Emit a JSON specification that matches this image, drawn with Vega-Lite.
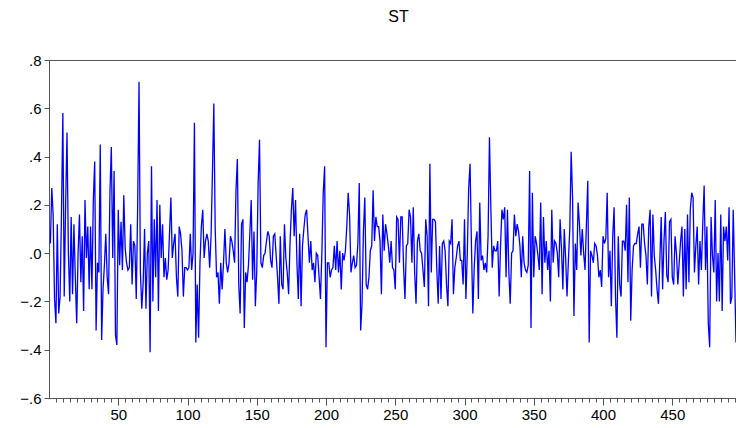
{
  "$schema": "https://vega.github.io/schema/vega-lite/v6.json",
  "autosize": "none",
  "width": 687,
  "height": 338,
  "padding": {"left": 49, "top": 60, "right": 0, "bottom": 30},
  "background": "white",
  "config": {"view": {"stroke": "#555555", "strokeWidth": 1}, "font": "Liberation Sans"},
  "title": {"text": "ST", "fontSize": 16, "fontWeight": "normal", "font": "Liberation Sans", "color": "#000000", "offset": 28, "anchor": "middle", "dx": 6},
  "data": {"values": [
{"t":1,"v":0.04},{"t":2,"v":0.27},{"t":3,"v":0.16},{"t":4,"v":-0.19},{"t":5,"v":-0.29},{"t":6,"v":0.12},{"t":7,"v":-0.25},{"t":8,"v":-0.18},{"t":9,"v":0.16},{"t":10,"v":0.58},
{"t":11,"v":-0.18},{"t":12,"v":0.2},{"t":13,"v":0.5},{"t":14,"v":0.0},{"t":15,"v":-0.2},{"t":16,"v":0.15},{"t":17,"v":-0.17},{"t":18,"v":0.12},{"t":19,"v":-0.1},{"t":20,"v":-0.29},
{"t":21,"v":0.0},{"t":22,"v":0.16},{"t":23,"v":-0.12},{"t":24,"v":0.07},{"t":25,"v":-0.24},{"t":26,"v":0.22},{"t":27,"v":-0.02},{"t":28,"v":0.11},{"t":29,"v":-0.15},{"t":30,"v":0.11},
{"t":31,"v":-0.15},{"t":32,"v":0.22},{"t":33,"v":0.38},{"t":34,"v":-0.32},{"t":35,"v":-0.04},{"t":36,"v":-0.08},{"t":37,"v":0.45},{"t":38,"v":-0.36},{"t":39,"v":-0.15},{"t":40,"v":-0.05},
{"t":41,"v":0.08},{"t":42,"v":-0.1},{"t":43,"v":-0.17},{"t":44,"v":0.25},{"t":45,"v":0.44},{"t":46,"v":-0.02},{"t":47,"v":0.34},{"t":48,"v":-0.34},{"t":49,"v":-0.38},{"t":50,"v":0.18},
{"t":51,"v":-0.05},{"t":52,"v":0.13},{"t":53,"v":-0.07},{"t":54,"v":0.24},{"t":55,"v":0.02},{"t":56,"v":-0.04},{"t":57,"v":-0.07},{"t":58,"v":-0.06},{"t":59,"v":0.12},{"t":60,"v":-0.13},
{"t":61,"v":0.05},{"t":62,"v":0.03},{"t":63,"v":-0.19},{"t":64,"v":0.19},{"t":65,"v":0.71},{"t":66,"v":-0.08},{"t":67,"v":-0.23},{"t":68,"v":-0.12},{"t":69,"v":0.1},{"t":70,"v":-0.23},
{"t":71,"v":0.0},{"t":72,"v":0.05},{"t":73,"v":-0.41},{"t":74,"v":0.36},{"t":75,"v":-0.2},{"t":76,"v":0.14},{"t":77,"v":-0.1},{"t":78,"v":0.22},{"t":79,"v":-0.24},{"t":80,"v":0.2},
{"t":81,"v":-0.02},{"t":82,"v":0.12},{"t":83,"v":-0.1},{"t":84,"v":-0.02},{"t":85,"v":-0.11},{"t":86,"v":-0.07},{"t":87,"v":0.08},{"t":88,"v":0.23},{"t":89,"v":-0.02},{"t":90,"v":0.04},
{"t":91,"v":0.08},{"t":92,"v":-0.1},{"t":93,"v":-0.18},{"t":94,"v":0.11},{"t":95,"v":0.08},{"t":96,"v":0.01},{"t":97,"v":-0.18},{"t":98,"v":-0.06},{"t":99,"v":-0.06},{"t":100,"v":-0.07},
{"t":101,"v":-0.06},{"t":102,"v":0.08},{"t":103,"v":-0.07},{"t":104,"v":0.0},{"t":105,"v":0.54},{"t":106,"v":-0.37},{"t":107,"v":-0.13},{"t":108,"v":-0.35},{"t":109,"v":-0.04},{"t":110,"v":0.11},
{"t":111,"v":0.18},{"t":112,"v":-0.02},{"t":113,"v":0.05},{"t":114,"v":0.08},{"t":115,"v":0.05},{"t":116,"v":-0.06},{"t":117,"v":0.07},{"t":118,"v":0.33},{"t":119,"v":0.62},{"t":120,"v":0.1},
{"t":121,"v":-0.1},{"t":122,"v":-0.08},{"t":123,"v":-0.21},{"t":124,"v":-0.04},{"t":125,"v":-0.15},{"t":126,"v":-0.04},{"t":127,"v":0.1},{"t":128,"v":-0.04},{"t":129,"v":-0.08},{"t":130,"v":-0.04},
{"t":131,"v":0.07},{"t":132,"v":0.05},{"t":133,"v":0.01},{"t":134,"v":-0.04},{"t":135,"v":0.26},{"t":136,"v":0.39},{"t":137,"v":-0.13},{"t":138,"v":-0.25},{"t":139,"v":0.12},{"t":140,"v":0.14},
{"t":141,"v":-0.31},{"t":142,"v":-0.08},{"t":143,"v":-0.12},{"t":144,"v":-0.05},{"t":145,"v":0.08},{"t":146,"v":0.22},{"t":147,"v":-0.11},{"t":148,"v":0.09},{"t":149,"v":-0.22},{"t":150,"v":-0.07},
{"t":151,"v":0.29},{"t":152,"v":0.47},{"t":153,"v":-0.04},{"t":154,"v":-0.06},{"t":155,"v":-0.01},{"t":156,"v":0.0},{"t":157,"v":0.05},{"t":158,"v":0.09},{"t":159,"v":0.07},{"t":160,"v":-0.03},
{"t":161,"v":-0.06},{"t":162,"v":0.07},{"t":163,"v":0.08},{"t":164,"v":-0.01},{"t":165,"v":-0.1},{"t":166,"v":-0.21},{"t":167,"v":0.07},{"t":168,"v":-0.13},{"t":169,"v":-0.15},{"t":170,"v":0.12},
{"t":171,"v":-0.02},{"t":172,"v":-0.08},{"t":173,"v":-0.17},{"t":174,"v":0.04},{"t":175,"v":0.18},{"t":176,"v":0.27},{"t":177,"v":0.07},{"t":178,"v":0.22},{"t":179,"v":-0.04},{"t":180,"v":-0.19},
{"t":181,"v":0.08},{"t":182,"v":-0.22},{"t":183,"v":0.03},{"t":184,"v":0.1},{"t":185,"v":0.16},{"t":186,"v":0.18},{"t":187,"v":0.07},{"t":188,"v":-0.04},{"t":189,"v":0.05},{"t":190,"v":-0.07},
{"t":191,"v":-0.04},{"t":192,"v":-0.12},{"t":193,"v":0.0},{"t":194,"v":-0.01},{"t":195,"v":-0.1},{"t":196,"v":-0.19},{"t":197,"v":0.0},{"t":198,"v":0.25},{"t":199,"v":0.36},{"t":200,"v":-0.39},
{"t":201,"v":-0.04},{"t":202,"v":-0.04},{"t":203,"v":-0.1},{"t":204,"v":-0.07},{"t":205,"v":-0.06},{"t":206,"v":0.03},{"t":207,"v":-0.07},{"t":208,"v":0.05},{"t":209,"v":-0.08},{"t":210,"v":0.01},
{"t":211,"v":-0.15},{"t":212,"v":0.0},{"t":213,"v":-0.03},{"t":214,"v":0.01},{"t":215,"v":0.11},{"t":216,"v":0.25},{"t":217,"v":0.16},{"t":218,"v":-0.08},{"t":219,"v":-0.04},{"t":220,"v":-0.01},
{"t":221,"v":-0.06},{"t":222,"v":-0.05},{"t":223,"v":0.04},{"t":224,"v":0.29},{"t":225,"v":-0.32},{"t":226,"v":-0.21},{"t":227,"v":0.09},{"t":228,"v":0.23},{"t":229,"v":-0.13},{"t":230,"v":-0.15},
{"t":231,"v":-0.1},{"t":232,"v":0.01},{"t":233,"v":0.03},{"t":234,"v":0.26},{"t":235,"v":0.05},{"t":236,"v":0.15},{"t":237,"v":0.11},{"t":238,"v":0.11},{"t":239,"v":0.05},{"t":240,"v":-0.17},
{"t":241,"v":0.16},{"t":242,"v":0.01},{"t":243,"v":0.12},{"t":244,"v":0.08},{"t":245,"v":0.03},{"t":246,"v":-0.04},{"t":247,"v":0.05},{"t":248,"v":-0.06},{"t":249,"v":-0.07},{"t":250,"v":-0.15},
{"t":251,"v":0.15},{"t":252,"v":0.14},{"t":253,"v":-0.04},{"t":254,"v":0.15},{"t":255,"v":0.15},{"t":256,"v":-0.06},{"t":257,"v":-0.19},{"t":258,"v":0.03},{"t":259,"v":0.04},{"t":260,"v":0.18},
{"t":261,"v":0.15},{"t":262,"v":-0.04},{"t":263,"v":0.19},{"t":264,"v":-0.08},{"t":265,"v":-0.21},{"t":266,"v":0.05},{"t":267,"v":0.08},{"t":268,"v":0.01},{"t":269,"v":0.0},{"t":270,"v":-0.07},
{"t":271,"v":-0.14},{"t":272,"v":0.14},{"t":273,"v":0.07},{"t":274,"v":-0.22},{"t":275,"v":0.37},{"t":276,"v":-0.08},{"t":277,"v":0.14},{"t":278,"v":0.14},{"t":279,"v":0.13},{"t":280,"v":-0.07},
{"t":281,"v":-0.21},{"t":282,"v":0.03},{"t":283,"v":-0.19},{"t":284,"v":0.04},{"t":285,"v":0.05},{"t":286,"v":0.01},{"t":287,"v":-0.13},{"t":288,"v":-0.22},{"t":289,"v":0.05},{"t":290,"v":0.04},
{"t":291,"v":0.14},{"t":292,"v":-0.17},{"t":293,"v":-0.06},{"t":294,"v":-0.02},{"t":295,"v":0.03},{"t":296,"v":0.05},{"t":297,"v":-0.03},{"t":298,"v":-0.03},{"t":299,"v":-0.13},{"t":300,"v":0.14},
{"t":301,"v":-0.19},{"t":302,"v":0.0},{"t":303,"v":0.27},{"t":304,"v":0.37},{"t":305,"v":0.03},{"t":306,"v":-0.25},{"t":307,"v":-0.06},{"t":308,"v":0.05},{"t":309,"v":0.09},{"t":310,"v":-0.19},
{"t":311,"v":0.21},{"t":312,"v":-0.03},{"t":313,"v":-0.01},{"t":314,"v":-0.07},{"t":315,"v":-0.04},{"t":316,"v":-0.08},{"t":317,"v":0.07},{"t":318,"v":0.48},{"t":319,"v":0.19},{"t":320,"v":-0.06},
{"t":321,"v":0.03},{"t":322,"v":0.01},{"t":323,"v":0.01},{"t":324,"v":0.05},{"t":325,"v":-0.18},{"t":326,"v":0.03},{"t":327,"v":0.18},{"t":328,"v":0.14},{"t":329,"v":0.19},{"t":330,"v":-0.1},
{"t":331,"v":0.18},{"t":332,"v":-0.08},{"t":333,"v":-0.21},{"t":334,"v":0.0},{"t":335,"v":0.01},{"t":336,"v":0.16},{"t":337,"v":0.07},{"t":338,"v":0.12},{"t":339,"v":0.09},{"t":340,"v":0.03},
{"t":341,"v":-0.1},{"t":342,"v":0.07},{"t":343,"v":-0.04},{"t":344,"v":-0.07},{"t":345,"v":-0.08},{"t":346,"v":-0.05},{"t":347,"v":0.34},{"t":348,"v":-0.31},{"t":349,"v":0.25},{"t":350,"v":-0.1},
{"t":351,"v":0.07},{"t":352,"v":0.04},{"t":353,"v":-0.01},{"t":354,"v":-0.07},{"t":355,"v":0.21},{"t":356,"v":-0.17},{"t":357,"v":0.15},{"t":358,"v":-0.04},{"t":359,"v":0.05},{"t":360,"v":-0.07},
{"t":361,"v":0.01},{"t":362,"v":-0.2},{"t":363,"v":0.18},{"t":364,"v":-0.04},{"t":365,"v":0.05},{"t":366,"v":0.04},{"t":367,"v":0.0},{"t":368,"v":-0.1},{"t":369,"v":0.14},{"t":370,"v":0.02},
{"t":371,"v":-0.15},{"t":372,"v":0.1},{"t":373,"v":-0.02},{"t":374,"v":-0.18},{"t":375,"v":-0.03},{"t":376,"v":0.1},{"t":377,"v":0.42},{"t":378,"v":0.23},{"t":379,"v":-0.26},{"t":380,"v":0.04},
{"t":381,"v":-0.07},{"t":382,"v":0.21},{"t":383,"v":0.12},{"t":384,"v":-0.01},{"t":385,"v":0.1},{"t":386,"v":0.0},{"t":387,"v":-0.07},{"t":388,"v":0.12},{"t":389,"v":0.3},{"t":390,"v":-0.37},
{"t":391,"v":0.01},{"t":392,"v":-0.01},{"t":393,"v":-0.04},{"t":394,"v":0.04},{"t":395,"v":0.03},{"t":396,"v":-0.01},{"t":397,"v":-0.1},{"t":398,"v":-0.07},{"t":399,"v":-0.14},{"t":400,"v":0.07},
{"t":401,"v":0.04},{"t":402,"v":0.06},{"t":403,"v":0.25},{"t":404,"v":-0.1},{"t":405,"v":0.01},{"t":406,"v":-0.22},{"t":407,"v":0.07},{"t":408,"v":0.19},{"t":409,"v":-0.18},{"t":410,"v":-0.35},
{"t":411,"v":0.07},{"t":412,"v":-0.13},{"t":413,"v":-0.18},{"t":414,"v":0.05},{"t":415,"v":0.05},{"t":416,"v":0.01},{"t":417,"v":0.2},{"t":418,"v":-0.12},{"t":419,"v":0.23},{"t":420,"v":-0.28},
{"t":421,"v":-0.07},{"t":422,"v":0.03},{"t":423,"v":0.04},{"t":424,"v":0.04},{"t":425,"v":0.08},{"t":426,"v":0.11},{"t":427,"v":-0.06},{"t":428,"v":0.12},{"t":429,"v":0.12},{"t":430,"v":0.04},
{"t":431,"v":-0.01},{"t":432,"v":-0.13},{"t":433,"v":0.11},{"t":434,"v":0.18},{"t":435,"v":-0.18},{"t":436,"v":0.16},{"t":437,"v":-0.01},{"t":438,"v":-0.07},{"t":439,"v":-0.15},{"t":440,"v":-0.21},
{"t":441,"v":-0.03},{"t":442,"v":0.15},{"t":443,"v":-0.15},{"t":444,"v":0.05},{"t":445,"v":0.17},{"t":446,"v":-0.09},{"t":447,"v":-0.12},{"t":448,"v":0.13},{"t":449,"v":0.14},{"t":450,"v":-0.1},
{"t":451,"v":-0.13},{"t":452,"v":0.07},{"t":453,"v":0.0},{"t":454,"v":-0.13},{"t":455,"v":-0.04},{"t":456,"v":0.05},{"t":457,"v":0.11},{"t":458,"v":-0.18},{"t":459,"v":0.1},{"t":460,"v":-0.15},
{"t":461,"v":0.16},{"t":462,"v":-0.12},{"t":463,"v":0.18},{"t":464,"v":0.25},{"t":465,"v":0.23},{"t":466,"v":-0.08},{"t":467,"v":0.03},{"t":468,"v":0.11},{"t":469,"v":-0.13},{"t":470,"v":0.05},
{"t":471,"v":-0.07},{"t":472,"v":0.12},{"t":473,"v":0.28},{"t":474,"v":-0.07},{"t":475,"v":0.11},{"t":476,"v":-0.29},{"t":477,"v":-0.39},{"t":478,"v":0.15},{"t":479,"v":-0.01},{"t":480,"v":-0.08},
{"t":481,"v":0.22},{"t":482,"v":-0.2},{"t":483,"v":0.0},{"t":484,"v":-0.2},{"t":485,"v":0.16},{"t":486,"v":-0.24},{"t":487,"v":0.11},{"t":488,"v":0.05},{"t":489,"v":0.11},{"t":490,"v":-0.03},
{"t":491,"v":0.19},{"t":492,"v":-0.21},{"t":493,"v":-0.18},{"t":494,"v":0.18},{"t":495,"v":-0.09},{"t":496,"v":-0.37}
  ]},
  "mark": {"type": "line", "color": "#0000FF", "strokeWidth": 1.3, "clip": true},
  "encoding": {
    "x": {"field": "t", "type": "quantitative", "title": null,
      "scale": {"domain": [0, 496], "nice": false, "zero": false},
      "axis": {"values": [5,10,15,20,25,30,35,40,45,50,55,60,65,70,75,80,85,90,95,100,105,110,115,120,125,130,135,140,145,150,155,160,165,170,175,180,185,190,195,200,205,210,215,220,225,230,235,240,245,250,255,260,265,270,275,280,285,290,295,300,305,310,315,320,325,330,335,340,345,350,355,360,365,370,375,380,385,390,395,400,405,410,415,420,425,430,435,440,445,450,455,460,465,470,475,480,485,490,495],
        "labelExpr": "datum.value % 50 === 0 ? datum.label : ''",
        "grid": false, "domainColor": "#555555", "tickColor": "#555555",
        "tickSize": {"condition": {"test": "datum.value % 50 === 0", "value": 7}, "value": 4},
        "labelFontSize": 15, "labelColor": "#000000", "labelFont": "Liberation Sans", "labelPadding": 2, "labelFlush": false, "labelOverlap": false}},
    "y": {"field": "v", "type": "quantitative", "title": null,
      "scale": {"domain": [-0.6, 0.8], "nice": false, "zero": false},
      "axis": {"values": [-0.6, -0.4, -0.2, 0, 0.2, 0.4, 0.6, 0.8],
        "labelExpr": "replace(format(datum.value, '.1f'), '0.', '.')",
        "grid": false, "domainColor": "#555555", "tickColor": "#555555", "tickSize": 5,
        "labelFontSize": 15, "labelColor": "#000000", "labelFont": "Liberation Sans", "labelPadding": 3, "labelFlush": false, "labelOverlap": false}}
  }
}
